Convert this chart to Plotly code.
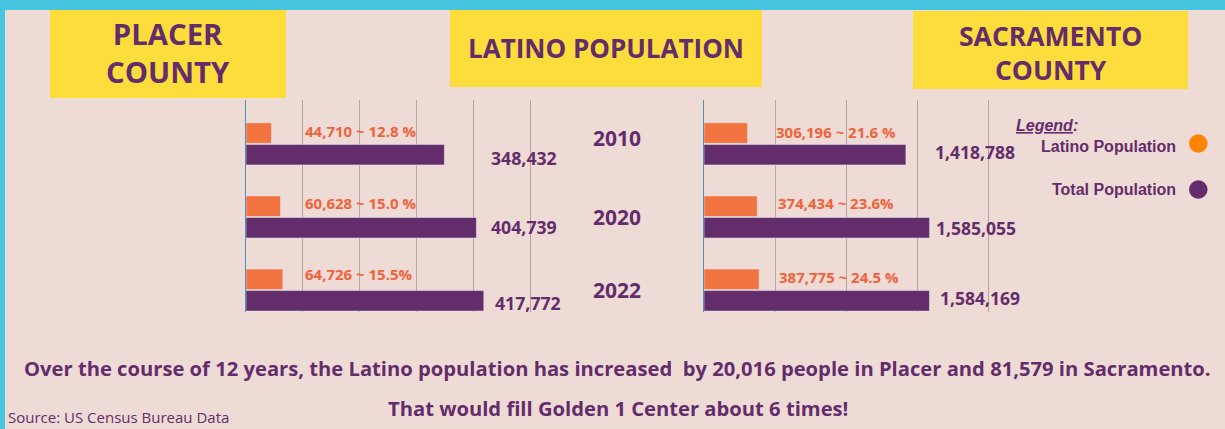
import plotly.graph_objects as go

W, H = 1225, 429

# ---------------- data ----------------
years = ["2010", "2020", "2022"]
placer_total = [348432, 404739, 417772]
placer_latino = [44710, 60628, 64726]
placer_latino_labels = ["44,710 ~ 12.8 %", "60,628 ~ 15.0 %", "64,726 ~ 15.5%"]
placer_total_labels = ["348,432", "404,739", "417,772"]
placer_grid = [100000, 200000, 300000, 400000, 500000]
sac_total = [1418788, 1585055, 1584169]
sac_latino = [306196, 374434, 387775]
sac_latino_labels = ["306,196 ~ 21.6 %", "374,434 ~ 23.6%", "387,775 ~ 24.5 %"]
sac_total_labels = ["1,418,788", "1,585,055", "1,584,169"]
sac_grid = [500000, 1000000, 1500000, 2000000]

# ---------------- style ----------------
BG = "#efdbd5"
CYAN = "#45c5e0"
YELLOW = "#fcdd3c"
PURPLE = "#632c6b"
ORANGE_BAR = "#f27440"
ORANGE_TXT = "#f0623a"
ORANGE_DOT = "#ff8500"
GRID = "#b5a3a0"
AXISLINE = "#4f8fbf"
OS = "Open Sans"
LS = "Liberation Sans"


def px(x):
    return x / W


def py(y):
    return 1 - y / H


fig = go.Figure()

fig.add_trace(go.Bar(y=years, x=placer_latino, orientation="h", marker=dict(color=ORANGE_BAR),
                     name="Latino Population", xaxis="x", yaxis="y", hoverinfo="x"))
fig.add_trace(go.Bar(y=years, x=placer_total, orientation="h", marker=dict(color=PURPLE),
                     name="Total Population", xaxis="x", yaxis="y", hoverinfo="x"))
fig.add_trace(go.Bar(y=years, x=sac_latino, orientation="h", marker=dict(color=ORANGE_BAR),
                     name="Latino Population", xaxis="x2", yaxis="y2", hoverinfo="x"))
fig.add_trace(go.Bar(y=years, x=sac_total, orientation="h", marker=dict(color=PURPLE),
                     name="Total Population", xaxis="x2", yaxis="y2", hoverinfo="x"))

ydom = [py(312), py(100)]
common_x = dict(showgrid=True, gridcolor=GRID, gridwidth=1, zeroline=False, tickmode="array",
                showticklabels=False, ticks="", showline=False, layer="below traces")
common_y = dict(domain=ydom, range=[2.3, -0.6], showgrid=False, zeroline=False,
                showticklabels=False, ticks="", showline=True, linecolor=AXISLINE,
                linewidth=1, layer="below traces", type="category")

fig.update_layout(
    width=W, height=H,
    margin=dict(l=0, r=0, t=0, b=0),
    paper_bgcolor=BG, plot_bgcolor=BG,
    showlegend=False,
    barmode="group", bargap=0.41, bargroupgap=0.05,
    xaxis=dict(domain=[px(246), px(542)], range=[0, 520000], tickvals=placer_grid, **common_x),
    yaxis=dict(anchor="x", **common_y),
    xaxis2=dict(domain=[px(704), px(1000)], range=[0, 2080000], tickvals=sac_grid, anchor="y2", **common_x),
    yaxis2=dict(anchor="x2", **common_y),
)

shapes = []
# cyan frame
shapes.append(dict(type="rect", xref="paper", yref="paper", x0=0, x1=1, y0=py(10), y1=1,
                   fillcolor=CYAN, line=dict(width=0), layer="below"))
shapes.append(dict(type="rect", xref="paper", yref="paper", x0=0, x1=px(5), y0=0, y1=1,
                   fillcolor=CYAN, line=dict(width=0), layer="below"))
# yellow title boxes
for (x0, y0, x1, y1) in [(50, 10, 286, 98), (450, 10, 762, 87), (913, 11, 1188, 89)]:
    shapes.append(dict(type="rect", xref="paper", yref="paper", x0=px(x0), x1=px(x1),
                       y0=py(y1), y1=py(y0), fillcolor=YELLOW, line=dict(width=0), layer="below"))
# legend dots
for (cy, col) in [(143.5, ORANGE_DOT), (189.5, PURPLE)]:
    shapes.append(dict(type="circle", xref="paper", yref="paper", xsizemode="pixel", ysizemode="pixel",
                       xanchor=px(1198.3), yanchor=py(cy), x0=-9.3, x1=9.3, y0=-9.3, y1=9.3,
                       fillcolor=col, line=dict(width=0)))
fig.update_layout(shapes=shapes)

ann = []


def text(x, y, s, size, color=PURPLE, family=OS, xanchor="center"):
    ann.append(dict(xref="paper", yref="paper", x=px(x), y=py(y), text=s, showarrow=False,
                    xanchor=xanchor, yanchor="middle", font=dict(family=family, size=size, color=color)))


# titles
text(168, 53.5, "<b>PLACER<br>COUNTY</b>", 29.3)
text(605.5, 48.3, "<b>LATINO POPULATION</b>", 26)
text(1050, 52.8, "<b>SACRAMENTO<br>COUNTY</b>", 26.5)

# year labels
for yr, yc in zip(years, [138.3, 216.7, 290]):
    text(616.7, yc, "<b>%s</b>" % yr, 21)

# Placer labels
for s, yc in zip(placer_latino_labels, [131, 203.3, 274.3]):
    text(303.3, yc, "<b>%s</b>" % s, 15, color=ORANGE_TXT, xanchor="left")
for s, xs, yc in zip(placer_total_labels, [489.3, 489.3, 493.3], [158.3, 227.3, 303]):
    text(xs, yc, "<b>%s</b>" % s, 17.7, xanchor="left")

# Sacramento labels
for s, xs, yc in zip(sac_latino_labels, [774.3, 776, 777.3], [131.7, 203, 276.7]):
    text(xs, yc, "<b>%s</b>" % s, 15, color=ORANGE_TXT, xanchor="left")
for s, xs, yc in zip(sac_total_labels, [933.3, 934, 938.3], [151.7, 228.3, 298.3]):
    text(xs, yc, "<b>%s</b>" % s, 17.5, xanchor="left")

# legend
text(1014, 125, "<b><i><u>Legend</u>:</i></b>", 16, family=LS, xanchor="left")
text(1178.3, 146.7, "<b>Latino Population</b>", 16, family=LS, xanchor="right")
text(1178.3, 189.3, "<b>Total Population</b>", 16, family=LS, xanchor="right")

# bottom notes
text(617, 368, "<b>Over the course of 12 years, the Latino population has increased&nbsp; by 20,016 people in Placer and 81,579 in Sacramento.</b>", 20.2)
text(618, 408.3, "<b>That would fill Golden 1 Center about 6 times!</b>", 20.2)
text(6, 416.7, "Source: US Census Bureau Data", 15, xanchor="left")

fig.update_layout(annotations=ann)

fig.write_html("out.html", config={"displayModeBar": False},
               post_script="document.body.style.margin='0px';document.body.style.overflow='hidden';")
